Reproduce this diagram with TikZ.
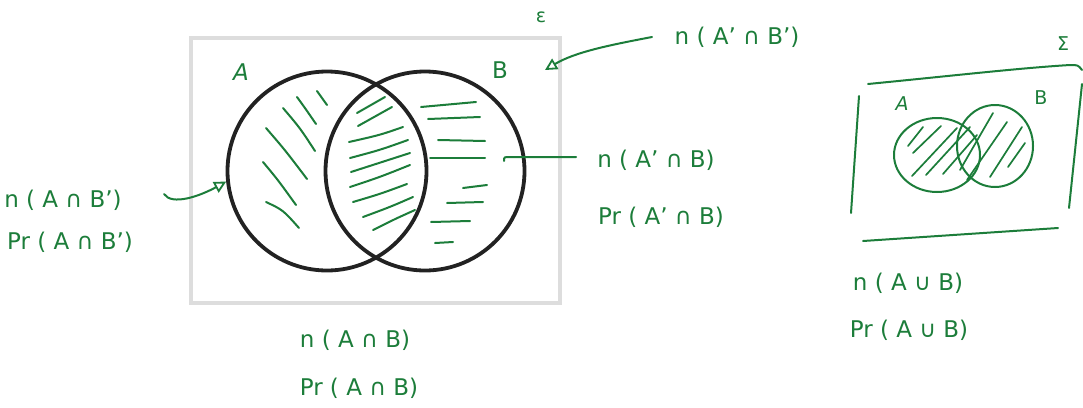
\documentclass[tikz,border=0pt]{standalone}
\usepackage{fontspec}
\setmainfont{DejaVu Sans}
\usetikzlibrary{arrows.meta,shapes.geometric}
\definecolor{ink}{RGB}{28,125,58}
\definecolor{pen}{RGB}{34,34,34}
\definecolor{framegray}{RGB}{221,221,221}
\tikzset{
  hand/.style={draw=ink, line width=2pt, line cap=round, line join=round},
  lbl/.style={text=ink, font=\fontsize{23}{26}\selectfont, inner sep=0pt},
  small/.style={text=ink, font=\fontsize{19}{22}\selectfont, inner sep=0pt},
  ring/.style={circle, draw=pen, line width=3.8pt, minimum size=199pt, inner sep=0pt},
  oval/.style={ellipse, draw=ink, line width=2pt, inner sep=0pt},
  tip/.style={-{Triangle[open, length=12pt, width=12pt, line width=1.8pt]}}
}
\begin{document}
\begin{tikzpicture}[x=1pt, y=-1pt]
\useasboundingbox (0,0) rectangle (1083,407);
% universal set frame
\draw[framegray, line width=4pt] (191,38) rectangle (560,303);
% hatching A only
\draw[hand] (317,91) -- (327,105);
\draw[hand] (297,97) .. controls (305,108) .. (316,124);
\draw[hand] (283,108) .. controls (300,128) .. (315,151);
\draw[hand] (266,128) .. controls (285,150) .. (307,179);
\draw[hand] (263,162) .. controls (278,180) .. (296,205);
\draw[hand] (266,202) .. controls (283,210) .. (299,228);
% hatching A and B
\draw[hand] (357,113) -- (385,97);
\draw[hand] (358,126) -- (392,107);
\draw[hand] (349,142) .. controls (380,135) .. (403,127);
\draw[hand] (350,158) .. controls (380,150) .. (408,140);
\draw[hand] (351,172) .. controls (380,163) .. (410,153);
\draw[hand] (350,187) .. controls (380,177) .. (410,165);
\draw[hand] (353,202) .. controls (380,194) .. (407,184);
\draw[hand] (363,217) .. controls (390,207) .. (413,197);
\draw[hand] (373,230) .. controls (395,219) .. (415,210);
% hatching B only
\draw[hand] (421,107) -- (476,102);
\draw[hand] (428,119) -- (480,117);
\draw[hand] (438,140) -- (485,141);
\draw[hand] (430,158) -- (485,158);
\draw[hand] (463,188) -- (487,185);
\draw[hand] (447,203) -- (483,202);
\draw[hand] (431,222) -- (470,221);
\draw[hand] (435,243) -- (453,242);
% circles
\node[ring] (A) at (327,171) {};
\node[ring] (B) at (425,171) {};
% set labels
\node[lbl] (la) at (241,72) {\itshape A};
\node[lbl] (lb) at (500,70) {B};
\node[small] (eps) at (541,17) {ε};
% region labels
\node[lbl] (nAnBc) at (63,200) {n ( A ∩ B')};
\node[lbl] (pAnBc) at (70,242) {Pr ( A ∩ B')};
\node[lbl] (nAcnBc) at (737,37) {n ( A' ∩ B')};
\node[lbl] (nAcnB) at (656,160) {n ( A' ∩ B)};
\node[lbl] (pAcnB) at (661,217) {Pr ( A' ∩ B)};
\node[lbl] (nAnB) at (355,340) {n ( A ∩ B)};
\node[lbl] (pAnB) at (359,388) {Pr ( A ∩ B)};
% connectors
\coordinate (s1) at (164,194);
\draw[hand, tip] (s1) .. controls (172,206) and (200,196) .. (A.186);
\coordinate (s2) at (652,37);
\coordinate (e2) at (545,70);
\draw[hand, tip] (s2) .. controls (610,45) and (575,52) .. (e2);
\coordinate (s3) at (576,157);
\coordinate (e3) at (504,161);
\draw[hand] (s3) -- (510,157) .. controls (504,157) .. (e3);
% small diagram: frame
\draw[hand] (868,84) .. controls (950,76) and (1020,68) .. (1070,65) .. controls (1078,65) .. (1082,70);
\draw[hand] (859,96) -- (851,213);
\draw[hand] (863,241) -- (1058,228);
\draw[hand] (1082,84) -- (1069,208);
\node[small] (sig) at (1063,44) {Σ};
% small diagram: hatching
\draw[hand, line width=1.7pt] (908,146) -- (923,127);
\draw[hand, line width=1.7pt] (913,153) -- (941,126);
\draw[hand, line width=1.7pt] (912,176) -- (957,128);
\draw[hand, line width=1.7pt] (926,175) -- (970,127);
\draw[hand, line width=1.7pt] (943,174) -- (977,135);
\draw[hand, line width=1.7pt] (960,170) -- (993,113);
\draw[hand, line width=1.7pt] (967,180) -- (1007,122);
\draw[hand, line width=1.7pt] (990,177) -- (1022,127);
\draw[hand, line width=1.7pt] (1008,167) -- (1025,143);
% small diagram: circles
\node[oval, minimum width=86pt, minimum height=74pt] (sA) at (937,155) {};
\node[oval, minimum width=76pt, minimum height=82pt] (sB) at (995,146) {};
\node[small] (sla) at (902,104) {\itshape A};
\node[small] (slb) at (1041,98) {B};
% union labels
\node[lbl] (nAuB) at (908,283) {n ( A ∪ B)};
\node[lbl] (pAuB) at (909,330) {Pr ( A ∪ B)};
\end{tikzpicture}
\end{document}
